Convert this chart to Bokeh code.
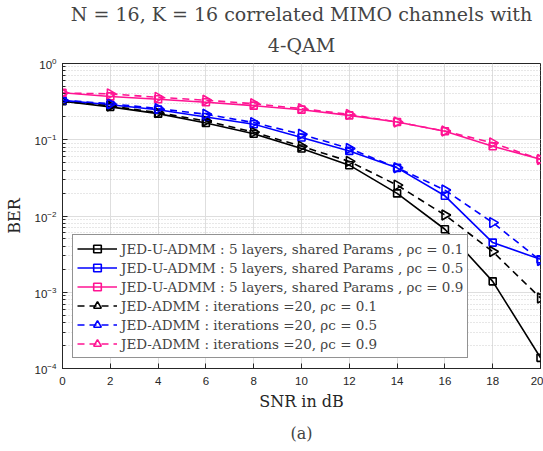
import math
from bokeh.plotting import figure
from bokeh.models import (Legend, LegendItem, Title, FixedTicker, Range1d)
from bokeh.embed import file_html
from bokeh.resources import INLINE

snr = [0, 2, 4, 6, 8, 10, 12, 14, 16, 18, 20]

uadmm_01 = [0.32, 0.27, 0.22, 0.166, 0.12, 0.0767, 0.0464, 0.0198, 0.0067, 0.00139, 0.000138]
uadmm_05 = [0.328, 0.288, 0.248, 0.199, 0.16, 0.107, 0.0714, 0.0428, 0.0184, 0.00448, 0.0027]
uadmm_09 = [0.414, 0.37, 0.34, 0.31, 0.28, 0.248, 0.209, 0.171, 0.129, 0.082, 0.0556]
admm_01 = [0.32, 0.277, 0.227, 0.176, 0.126, 0.082, 0.052, 0.0254, 0.0103, 0.00342, 0.00084]
admm_05 = [0.33, 0.297, 0.256, 0.216, 0.168, 0.118, 0.0767, 0.043, 0.0219, 0.0082, 0.0026]
admm_09 = [0.41, 0.40, 0.36, 0.33, 0.297, 0.256, 0.215, 0.171, 0.13, 0.091, 0.055]

labels_u = ["JED-U-ADMM : 5 layers, shared Params , ρc = 0.1",
            "JED-U-ADMM : 5 layers, shared Params , ρc = 0.5",
            "JED-U-ADMM : 5 layers, shared Params , ρc = 0.9"]
labels_a = ["JED-ADMM : iterations =20, ρc = 0.1",
            "JED-ADMM : iterations =20, ρc = 0.5",
            "JED-ADMM : iterations =20, ρc = 0.9"]

x_ticks = [0, 2, 4, 6, 8, 10, 12, 14, 16, 18, 20]

colors = ["#000000", "#0000ff", "#ff1493"]
SERIF = "DejaVu Serif"

FL, FR, FT, FB = 62, 540, 63, 369   # frame edges in canvas pixels
W, H = 543, 451

p = figure(width=W, height=H, x_range=Range1d(0, 20), y_range=Range1d(1e-4, 1),
           y_axis_type="log", output_backend="svg", toolbar_location=None,
           title=None,
           min_border_left=FL, min_border_right=W - FR, min_border_top=FT,
           min_border_bottom=H - FB)

p.add_layout(Title(text="4-QAM", align="center", text_font=SERIF,
                   text_font_size="19px", text_font_style="normal",
                   standoff=15), "above")
p.add_layout(Title(text="N = 16, K = 16 correlated MIMO channels with",
                   align="center", text_font=SERIF, text_font_size="19px",
                   text_font_style="normal", standoff=0), "above")

p.xaxis.ticker = FixedTicker(ticks=x_ticks)
p.yaxis.ticker.num_minor_ticks = 10
p.xaxis.axis_label = "SNR in dB"
p.yaxis.axis_label = "BER"
for ax in (p.xaxis, p.yaxis):
    ax.axis_label_text_font = SERIF
    ax.axis_label_text_font_size = "16px"
    ax.axis_label_text_font_style = "normal"
    ax.axis_label_text_color = "#262626"
    ax.major_label_text_font = "Liberation Sans"
    ax.major_label_text_font_size = "11.5px"
    ax.major_label_text_color = "#262626"
    ax.major_tick_in = 5
    ax.major_tick_out = 0
    ax.minor_tick_in = 3
    ax.minor_tick_out = 0
    ax.axis_line_color = "#262626"
    ax.major_tick_line_color = "#262626"
    ax.minor_tick_line_color = "#262626"
p.xaxis.minor_tick_line_color = None
p.xaxis.major_label_standoff = 8
p.xaxis.axis_label_standoff = 4
p.yaxis.major_label_standoff = 6
p.yaxis.axis_label_standoff = 8

p.add_layout(Title(text="(a)", align="center", text_font=SERIF,
                   text_font_size="16px", text_font_style="normal",
                   standoff=17), "below")

p.xgrid.grid_line_color = "#dedede"
p.ygrid.grid_line_color = "#dedede"
p.ygrid.minor_grid_line_color = "#cfcfcf"
p.ygrid.minor_grid_line_dash = "1 2"
p.outline_line_color = "#262626"

items = []
for ys, lab, c in zip([uadmm_01, uadmm_05, uadmm_09], labels_u, colors):
    l = p.line(snr, ys, line_color=c, line_width=1.6)
    s = p.scatter(snr, ys, marker="square", size=7, line_color=c, fill_color=None,
                  line_width=1.6)
    items.append(LegendItem(label=lab, renderers=[l, s]))
for ys, lab, c in zip([admm_01, admm_05, admm_09], labels_a, colors):
    l = p.line(snr, ys, line_color=c, line_width=1.6, line_dash="7 5")
    s = p.scatter(snr, ys, marker="triangle", size=10, angle=-math.pi / 2,
                  line_color=c, fill_color=None, line_width=1.6)
    items.append(LegendItem(label=lab, renderers=[l, s]))

legend = Legend(items=items, location="bottom_left", label_text_font=SERIF,
                label_text_font_size="13.5px", glyph_width=40, label_height=19,
                glyph_height=19, spacing=0, padding=4, margin=10,
                border_line_color="#262626", border_line_width=1,
                background_fill_alpha=1.0, label_standoff=4)
p.add_layout(legend, "center")

open("out.html", "w").write(file_html(p, INLINE))
